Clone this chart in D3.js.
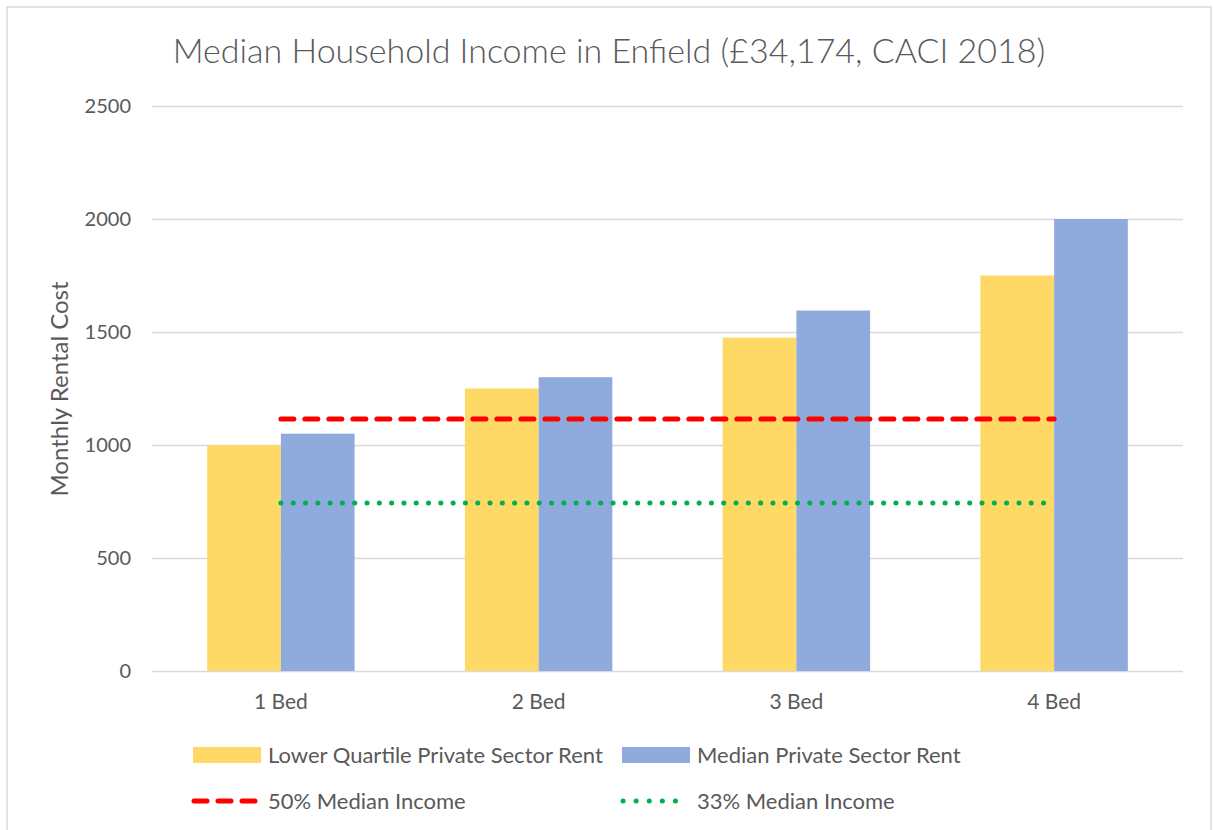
<!DOCTYPE html>
<meta charset="utf-8">
<style>
body { margin: 0; background: #fff; }
text { font-family: Lato, "Open Sans", sans-serif; fill: #595959; }
.grid line { stroke: #d9d9d9; stroke-width: 1.5; }
.grid path { display: none; }
</style>
<head>
  <script src="https://d3js.org/d3.v7.min.js"></script>
</head>
<svg width="1213" height="830"></svg>
<script>

var categories = ["1 Bed", "2 Bed", "3 Bed", "4 Bed"];
var lowerQuartile = [1000, 1250, 1475, 1750];
var medianRent = [1050, 1300, 1595, 2000];
var halfIncome = [1115, 1115, 1115, 1115];
var thirdIncome = [743, 743, 743, 743];
var yTicks = [0, 500, 1000, 1500, 2000, 2500];

var svg = d3.select("svg"),
    margin = {top: 106, right: 30, bottom: 159, left: 152},
    width = +svg.attr("width") - margin.left - margin.right,
    height = +svg.attr("height") - margin.top - margin.bottom;

// chart border
svg.append("path")
    .attr("d", "M7,835V7H1211V835")
    .attr("fill", "none")
    .attr("stroke", "#d9d9d9")
    .attr("stroke-width", 1.5);

svg.append("text")
    .attr("x", 609).attr("y", 63)
    .attr("text-anchor", "middle")
    .style("font-size", "34px")
    .style("font-weight", 300)
    .text("Median Household Income in Enfield (£34,174, CACI 2018)");

var x = d3.scaleBand().domain(categories).range([0, width]);
var xi = d3.scaleBand().domain([0, 1]).range([0, x.bandwidth() * 0.572]);
var y = d3.scaleLinear().domain([0, 2500]).range([height, 0]);

var g = svg.append("g")
    .attr("transform", "translate(" + margin.left + "," + margin.top + ")");

g.append("g")
    .attr("class", "grid")
    .call(d3.axisLeft(y).tickValues(yTicks).tickSize(-width).tickFormat(""))
    .call(function(s) { s.selectAll(".tick line").attr("stroke", "#d9d9d9"); });

// y labels
g.selectAll(".ylab")
  .data(yTicks)
  .enter().append("text")
    .attr("x", -21)
    .attr("y", function(d) { return y(d); })
    .attr("dy", "0.35em")
    .attr("text-anchor", "end")
    .style("font-size", "20px")
    .text(function(d) { return d; });

svg.append("text")
    .attr("transform", "translate(68,389) rotate(-90)")
    .attr("text-anchor", "middle")
    .style("font-size", "24px")
    .text("Monthly Rental Cost");

var series = [
  {name: "Lower Quartile Private Sector Rent", values: lowerQuartile, color: "#ffd966"},
  {name: "Median Private Sector Rent", values: medianRent, color: "#8faadc"}
];

var off = (x.bandwidth() - xi.range()[1]) / 2;

series.forEach(function(s, i) {
  g.selectAll(".bar" + i)
    .data(s.values)
    .enter().append("rect")
      .attr("x", function(d, j) { return x(categories[j]) + off + xi(i); })
      .attr("y", function(d) { return y(d); })
      .attr("width", xi.bandwidth())
      .attr("height", function(d) { return height - y(d); })
      .attr("fill", s.color);
});

// x labels
g.selectAll(".xlab")
  .data(categories)
  .enter().append("text")
    .attr("x", function(d) { return x(d) + x.bandwidth() / 2; })
    .attr("y", height + 38)
    .attr("text-anchor", "middle")
    .style("font-size", "21px")
    .text(function(d) { return d; });

var line = d3.line()
    .x(function(d, j) { return x(categories[j]) + x.bandwidth() / 2; })
    .y(function(d) { return y(d); });

g.append("path")
    .datum(halfIncome)
    .attr("d", line)
    .attr("fill", "none")
    .attr("stroke", "#ff0000")
    .attr("stroke-width", 5)
    .attr("stroke-linecap", "round")
    .attr("stroke-dasharray", "13 11");

g.append("path")
    .datum(thirdIncome)
    .attr("d", line)
    .attr("fill", "none")
    .attr("stroke", "#00b050")
    .attr("stroke-width", 5)
    .attr("stroke-linecap", "round")
    .attr("stroke-dasharray", "0.1 12.2");

// legend
var lg = svg.append("g");
var items = [
  {name: series[0].name, type: "rect", color: series[0].color, x: 193, y: 755},
  {name: series[1].name, type: "rect", color: series[1].color, x: 622, y: 755},
  {name: "50% Median Income", type: "dash", color: "#ff0000", x: 193, y: 801},
  {name: "33% Median Income", type: "dot", color: "#00b050", x: 622, y: 801}
];
items.forEach(function(it) {
  if (it.type === "rect") {
    lg.append("rect")
      .attr("x", it.x).attr("y", it.y - 8)
      .attr("width", 68).attr("height", 16)
      .attr("fill", it.color);
  } else {
    lg.append("line")
      .attr("x1", it.x + 1).attr("x2", it.x + 66)
      .attr("y1", it.y).attr("y2", it.y)
      .attr("stroke", it.color)
      .attr("stroke-width", 5)
      .attr("stroke-linecap", "round")
      .attr("stroke-dasharray", it.type === "dash" ? "13 11" : "0.1 13");
  }
  lg.append("text")
    .attr("x", it.x + 75).attr("y", it.y)
    .attr("dy", "0.35em")
    .style("font-size", "22px")
    .text(it.name);
});

</script>
